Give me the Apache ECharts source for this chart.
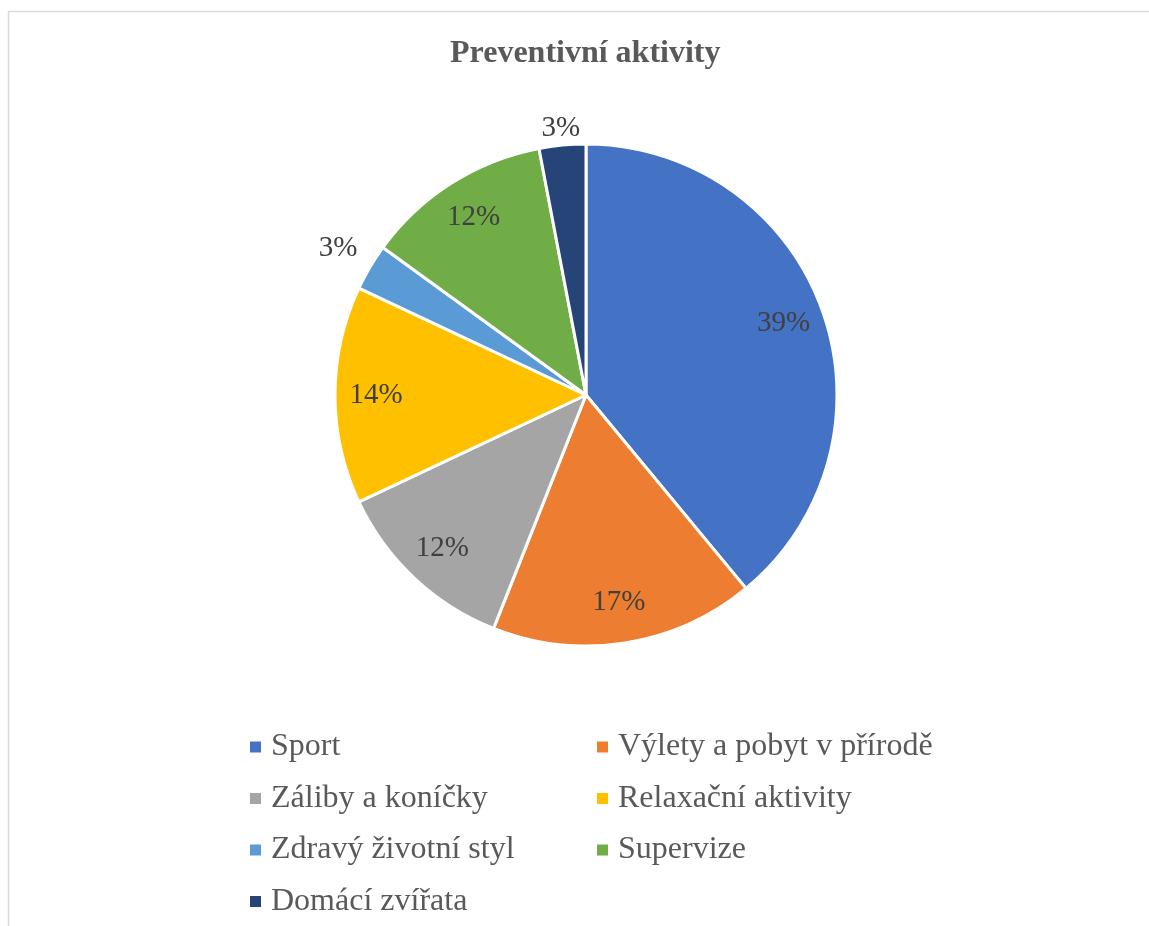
<!DOCTYPE html>
<html lang="cs">
<head>
<meta charset="utf-8">
<title>Preventivní aktivity</title>
<script src="https://cdn.jsdelivr.net/npm/echarts@6/dist/echarts.min.js"></script>
<style>
  html, body { margin: 0; padding: 0; background: #ffffff; }
  #chart { width: 1149px; height: 926px; }
</style>
</head>
<body>
<div id="chart"></div>
<script>
// Category names and their shares (percent)
const categories = [
  'Sport',
  'Výlety a pobyt v přírodě',
  'Záliby a koníčky',
  'Relaxační aktivity',
  'Zdravý životní styl',
  'Supervize',
  'Domácí zvířata'
];
const shares = [39, 17, 12, 14, 3, 12, 3];
const sliceColors = ['#4472C4', '#ED7D31', '#A5A5A5', '#FFC000', '#5B9BD5', '#70AD47', '#264478'];

const FONT = '"Liberation Serif", "Times New Roman", serif';
const CENTER = [586, 395];
const R = 251;
const LABEL_R = 207;          // radius at which inside labels sit
const LABEL_RING = [163, R];  // ring whose mid-radius is LABEL_R
// small slices get their label pushed outside the pie
const outsideLabelRadius = { 'Zdravý životní styl': 285, 'Domácí zvířata': 265 };

const total = shares.reduce((a, b) => a + b, 0);
let acc = 0;
const labelData = categories.map((name, i) => {
  const mid = (acc + shares[i] / 2) / total * 2 * Math.PI;  // clockwise from top
  acc += shares[i];
  const item = { name, value: shares[i] };
  if (outsideLabelRadius[name]) {
    const d = outsideLabelRadius[name] - LABEL_R;
    item.label = { offset: [d * Math.sin(mid), -d * Math.cos(mid)] };
  }
  return item;
});

const chart = echarts.init(document.getElementById('chart'), null, { renderer: 'canvas' });
chart.setOption({
  animation: false,
  backgroundColor: '#ffffff',
  color: sliceColors,
  graphic: [{
    type: 'rect',
    silent: true,
    shape: { x: 8.5, y: 11.5, width: 1300, height: 1100 },
    style: { fill: 'none', stroke: '#d9d9d9', lineWidth: 1.5 }
  }],
  title: {
    text: 'Preventivní aktivity',
    left: 450,
    top: 38,
    padding: 0,
    textStyle: { fontFamily: FONT, fontSize: 32, fontWeight: 'bold', color: '#595959' }
  },
  legend: [0, 1].map(col => ({
    orient: 'vertical',
    left: col === 0 ? 250 : 597,
    top: 731,
    padding: 0,
    itemGap: 19.5,
    icon: 'rect',
    itemWidth: 11,
    itemHeight: 11,
    itemStyle: { borderWidth: 0 },
    data: categories.filter((_, i) => i % 2 === col),
    textStyle: {
      fontFamily: FONT, fontSize: 32, color: '#595959',
      lineHeight: 32, padding: [0, 0, 0, 5]
    }
  })),
  series: [
    {
      name: 'Preventivní aktivity',
      type: 'pie',
      center: CENTER,
      radius: [0, R],
      startAngle: 90,
      clockwise: true,
      avoidLabelOverlap: false,
      itemStyle: { borderColor: '#ffffff', borderWidth: 3 },
      label: { show: false },
      labelLine: { show: false },
      emphasis: { scale: false },
      data: categories.map((name, i) => ({ name, value: shares[i] }))
    },
    {
      // transparent ring that only carries the percentage labels
      name: 'labels',
      type: 'pie',
      center: CENTER,
      radius: LABEL_RING,
      startAngle: 90,
      clockwise: true,
      silent: true,
      avoidLabelOverlap: false,
      itemStyle: { color: 'rgba(0,0,0,0)', borderWidth: 0 },
      emphasis: { disabled: true },
      label: {
        show: true,
        position: 'inside',
        formatter: p => p.value + '%',
        fontFamily: FONT,
        fontSize: 29,
        color: '#404040'
      },
      labelLine: { show: false },
      data: labelData
    }
  ]
});
</script>
</body>
</html>
